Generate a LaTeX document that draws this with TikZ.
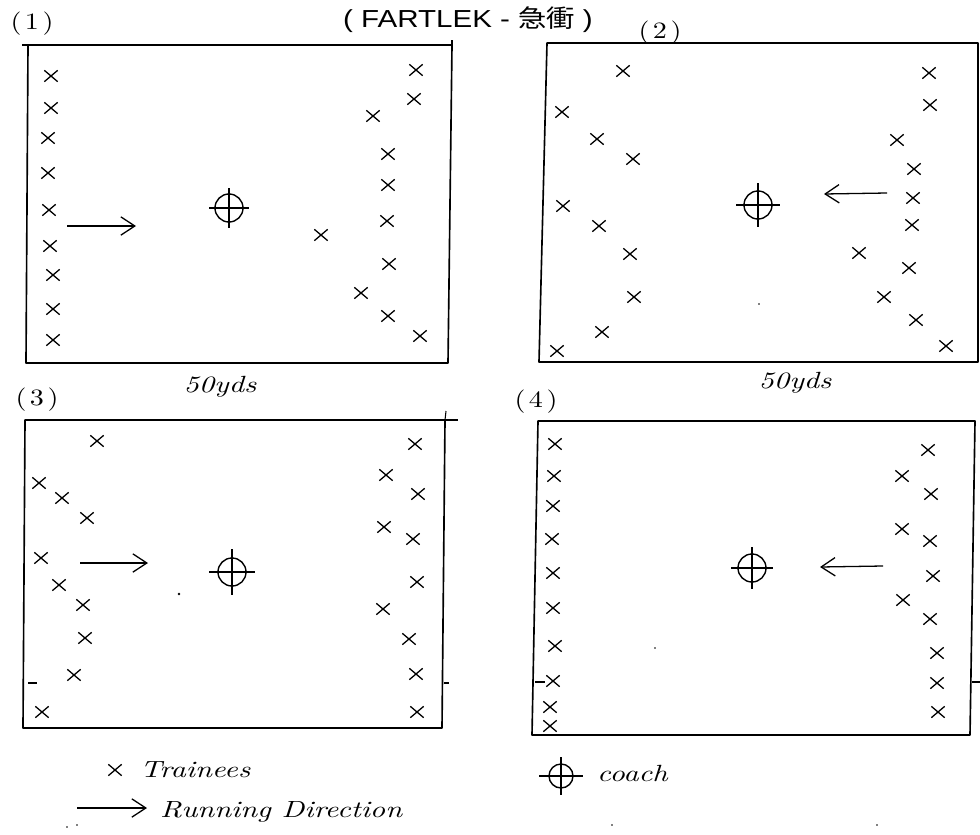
\documentclass[tikz,border=0pt]{standalone}
\usepackage{fontspec}
\newfontfamily\cjk{Noto Sans CJK TC}[FakeStretch=1.15]
\newfontfamily\capsfont{Liberation Sans}[FakeStretch=1.2]
\newfontfamily\handfont{lmroman10-italic}[Extension=.otf, FakeStretch=1.28]
\newfontfamily\tagfont{lmroman10-regular}[Extension=.otf, FakeStretch=1.2]
\usetikzlibrary{shapes.misc, arrows.meta}

\tikzset{
  field/.style={line width=1.4pt, line join=round, line cap=round},
  tick/.style={line width=0.9pt},
  trainee/.style={cross out, draw, line width=1.1pt, minimum width=0.36cm, minimum height=0.30cm, inner sep=0pt},
  coachc/.style={circle, draw, line width=1.2pt, minimum size=0.84cm, inner sep=0pt},
  smallcoach/.style={circle, draw, line width=1.2pt, minimum size=0.72cm, inner sep=0pt},
  hair/.style={line width=1.2pt},
  runarrow/.style={line width=1.1pt, -{Straight Barb[length=0.42cm, width=0.55cm, line width=1.1pt]}},
  paneltag/.style={font=\fontsize{20}{24}\selectfont\tagfont},
  hand/.style={font=\fontsize{20}{24}\selectfont\handfont, inner sep=0pt},
  speck/.style={fill=black, circle, inner sep=0pt, minimum size=2.5pt},
}

\newcommand\coachmark[4]{%
  \node[coachc] (#1) at (#2,#3) {};
  \draw[hair] (#1.center) ++(-#4,0) -- ++(2*#4,0);
  \draw[hair] (#1.center) ++(0,-#4) -- ++(0,2*#4);
}

\begin{document}
\begin{tikzpicture}[x=0.03cm, y=-0.03cm]
\useasboundingbox (0,0) rectangle (980,834);

% ---------- title and tags ----------
\node[font=\fontsize{21}{24}\selectfont\capsfont] (title) at (468,20) {( FARTLEK - {\cjk 急衝} )};
\node[paneltag] (tag1) at (32,24) {(\hspace{3pt}1\hspace{3pt})};
\node[paneltag] (tag2) at (660,33) {(\hspace{3pt}2\hspace{3pt})};
\node[paneltag] (tag3) at (37,400) {(\hspace{3pt}3\hspace{3pt})};
\node[paneltag] (tag4) at (536,402) {(\hspace{3pt}4\hspace{3pt})};

% ---------- field boxes ----------
\coordinate (b1a) at (28,45);  \coordinate (b1b) at (452,45);
\coordinate (b1c) at (448,363); \coordinate (b1d) at (26,363);
\draw[field] (b1a) -- (b1b) -- (b1c) -- (b1d) -- cycle;
\draw[tick] (22,45) -- (b1a);
\draw[tick] (452,40) -- (b1b);

\coordinate (b2a) at (547,43);  \coordinate (b2b) at (978,43);
\coordinate (b2c) at (978,362); \coordinate (b2d) at (539,362);
\draw[field] (b2a) -- (b2b) -- (b2c) -- (b2d) -- cycle;

\coordinate (b3a) at (25,420);  \coordinate (b3b) at (445,420);
\coordinate (b3c) at (442,728); \coordinate (b3d) at (23,728);
\draw[field] (b3a) -- (b3b) -- (b3c) -- (b3d) -- cycle;
\draw[tick] (b3b) -- (458,420);
\draw[tick] (446,411) -- (b3b);
\draw[tick] (444,683) -- (449,683);
\draw[tick] (28,683) -- (37,683);

\coordinate (b4a) at (538,421);  \coordinate (b4b) at (975,421);
\coordinate (b4c) at (970,735); \coordinate (b4d) at (532,735);
\draw[field] (b4a) -- (b4b) -- (b4c) -- (b4d) -- cycle;
\draw[tick] (972,682) -- (980,682);
\draw[tick] (535,682) -- (545,682);

% ---------- distance labels ----------
\node[hand] (yd1) at (220,387) {50yds};
\node[hand] (yd2) at (795,383) {50yds};

% ---------- panel 1 ----------
\foreach \x/\y [count=\i] in {51/76,51/108,48/138,48/173,49/210,50/246,53/275,53/309,53/340,
  416/70,414/99,373/116,388/154,388/185,387/221,321/235,389/264,361/293,388/316,420/336}
  \node[trainee] (p1t\i) at (\x,\y) {};
\coachmark{c1}{229}{208}{20}
\coordinate (r1s) at (67,226); \coordinate (r1e) at (136,226);
\draw[runarrow] (r1s) -- (r1e);

% ---------- panel 2 ----------
\foreach \x/\y [count=\i] in {623/71,562/112,597/139,633/159,563/206,599/226,630/254,634/297,602/332,557/351,
  929/73,930/105,897/140,914/169,913/198,912/225,859/253,909/268,884/297,916/320,946/346}
  \node[trainee] (p2t\i) at (\x,\y) {};
\coachmark{c2}{758}{205}{22}
\coordinate (r2s) at (887,193); \coordinate (r2e) at (824,194);
\draw[runarrow] (r2s) -- (r2e);
\node[speck, minimum size=1.5pt] (d2) at (759,304) {};

% ---------- panel 3 ----------
\foreach \x/\y [count=\i] in {97/441,39/483,62/498,87/518,41/558,59/585,83/605,85/638,74/675,42/712,
  415/444,386/475,418/494,384/527,413/539,417/582,383/609,409/639,416/674,417/712}
  \node[trainee] (p3t\i) at (\x,\y) {};
\coachmark{c3}{232}{572}{23}
\coordinate (r3s) at (80,563); \coordinate (r3e) at (148,563);
\draw[runarrow] (r3s) -- (r3e);
\node[speck] (d3) at (179,594) {};

% ---------- panel 4 ----------
\foreach \x/\y [count=\i] in {555/444,554/476,553/506,552/539,553/573,553/608,555/646,553/681,550/707,550/726,
  928/450,902/476,931/494,902/529,930/541,933/576,903/600,930/619,937/653,937/683,938/712}
  \node[trainee] (p4t\i) at (\x,\y) {};
\coachmark{c4}{752}{568}{21}
\coordinate (r4s) at (883,566); \coordinate (r4e) at (820,567);
\draw[runarrow] (r4s) -- (r4e);
\node[speck, minimum size=1.5pt] (d4) at (655,648) {};

% ---------- legend ----------
\node[trainee] (legx) at (115,770) {};
\node[hand, anchor=west] (legxt) at (140,770) {Trainees};
\coordinate (lega) at (77,808); \coordinate (legb) at (147,808);
\draw[runarrow] (lega) -- (legb);
\node[hand, anchor=west] (legat) at (160,812) {Running Direction};
\node[smallcoach] (legc) at (561,776) {};
\draw[hair] (legc.center) ++(-22,0) -- ++(44,0);
\draw[hair] (legc.center) ++(0,-19) -- ++(0,38);
\node[hand, anchor=west] (legct) at (597,773) {coach};

\node[speck, minimum size=1.5pt] (s1) at (67,827) {};
\node[speck, minimum size=1.5pt] (s2) at (77,825) {};
\node[speck, minimum size=1.5pt] (s3) at (612,825) {};
\node[speck, minimum size=1.5pt] (s4) at (877,825) {};
\end{tikzpicture}
\end{document}
